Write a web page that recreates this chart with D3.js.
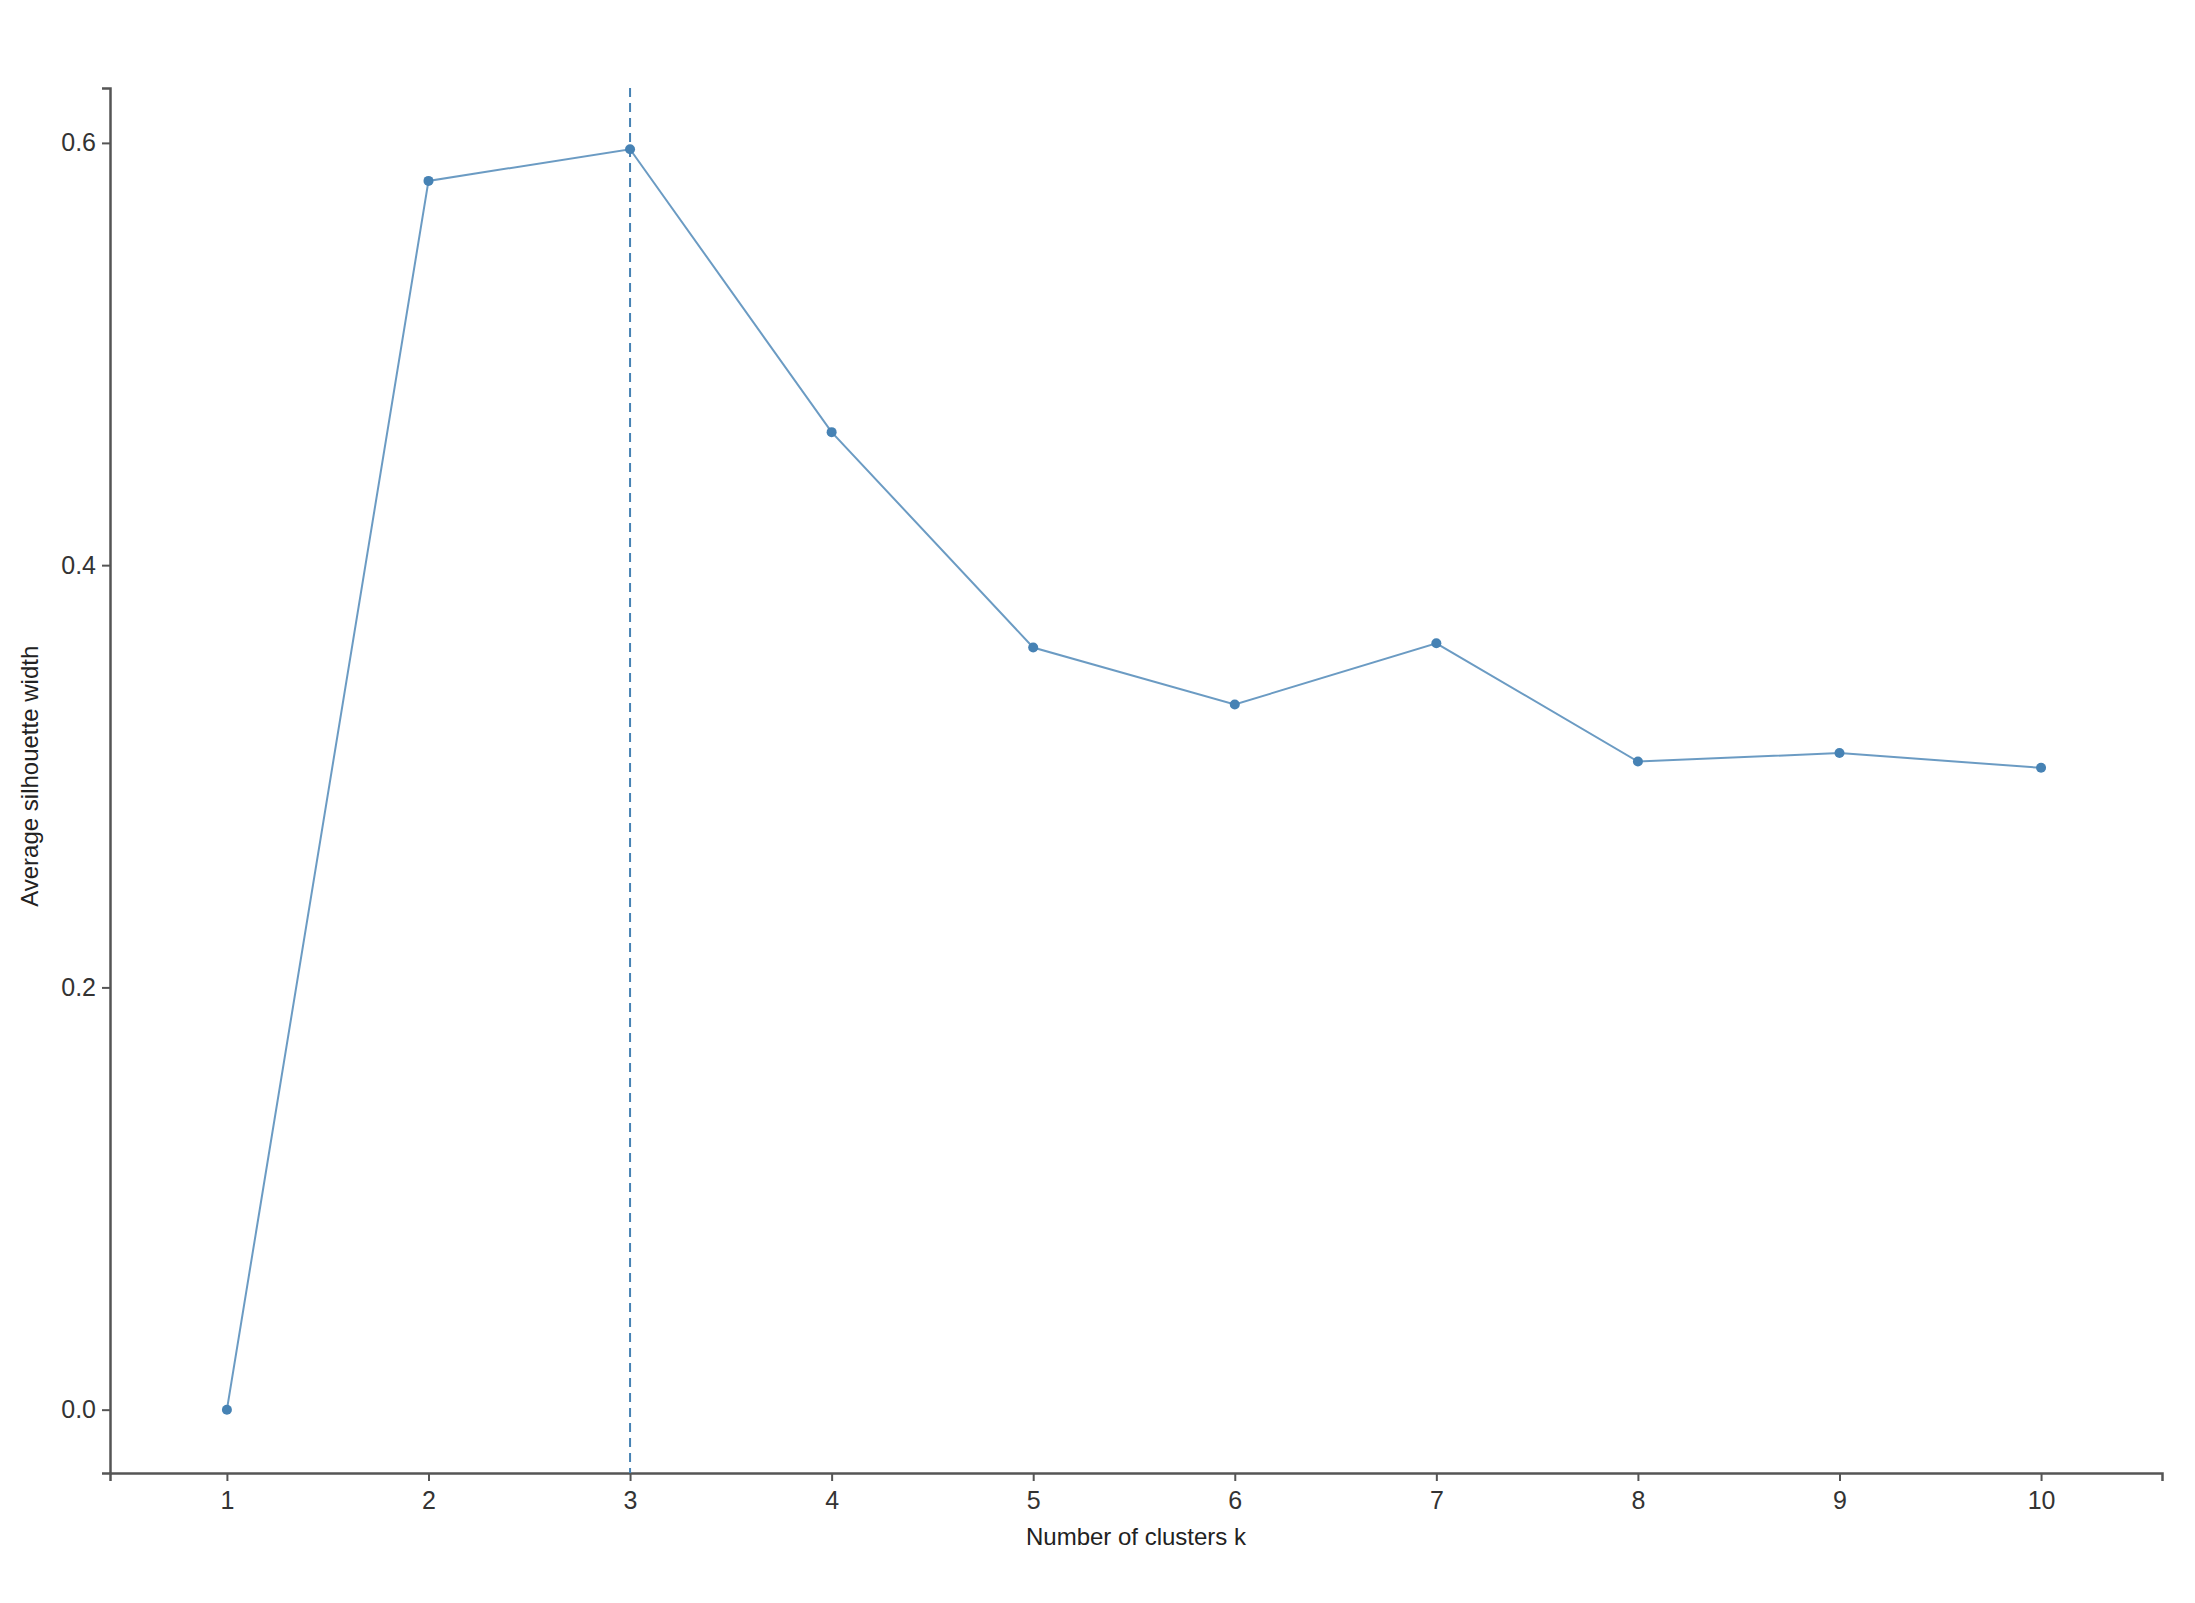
<!DOCTYPE html>
<html>
<head>
<meta charset="utf-8">
<script src="https://cdn.jsdelivr.net/npm/d3@7"></script>
<style>
  body { margin: 0; background: #fff; }
  text { font-family: "Liberation Sans", Arial, sans-serif; }
</style>
</head>
<body>
<div id="chart"></div>
<script>
// silhouette values
var clusters = [1, 2, 3, 4, 5, 6, 7, 8, 9, 10];
var silhouette = [0, 0.582, 0.597, 0.463, 0.361, 0.334, 0.363, 0.307, 0.311, 0.304];
var yTicks = [0, 0.2, 0.4, 0.6];
var bestK = 3;

var W = 2195, H = 1603;
var margin = {top: 88, right: 33, bottom: 130, left: 110};
var width = W - margin.left - margin.right;
var height = H - margin.top - margin.bottom;

var svg = d3.select("#chart")
    .append("svg")
    .attr("width", W)
    .attr("height", H)
    .append("g")
    .attr("transform", "translate(" + margin.left + "," + margin.top + ")");

var x = d3.scaleLinear()
    .domain([0.42, 10.6])
    .range([0, width]);

var y = d3.scaleLinear()
    .domain([-0.030, 0.626])
    .range([height, 0]);

// X axis
var gx = svg.append("g")
    .attr("transform", "translate(0," + height + ")")
    .call(d3.axisBottom(x).tickValues(clusters).tickFormat(d3.format("d")).tickSize(8).tickPadding(10));

// Y axis
var gy = svg.append("g")
    .call(d3.axisLeft(y).tickValues(yTicks).tickFormat(d3.format(".1f")).tickSize(8).tickPadding(6));

[gx, gy].forEach(function (g) {
    g.select(".domain").attr("stroke", "#555").attr("stroke-width", 2.5);
    g.selectAll(".tick line").attr("stroke", "#555").attr("stroke-width", 2);
    g.selectAll("text").style("font-size", "25px").attr("fill", "#333");
});

// dashed line at optimal k
svg.append("line")
    .attr("x1", x(bestK)).attr("x2", x(bestK))
    .attr("y1", 0).attr("y2", height)
    .attr("stroke", "#4682B4")
    .attr("stroke-width", 2)
    .attr("stroke-dasharray", "9,6");

var data = clusters.map(function (k, i) { return {k: k, v: silhouette[i]}; });

svg.append("path")
    .datum(data)
    .attr("fill", "none")
    .attr("stroke", "#4682B4")
    .attr("stroke-opacity", 0.8)
    .attr("stroke-width", 2)
    .attr("d", d3.line().x(function (d) { return x(d.k); }).y(function (d) { return y(d.v); }));

svg.selectAll("circle")
    .data(data)
    .enter()
    .append("circle")
    .attr("cx", function (d) { return x(d.k); })
    .attr("cy", function (d) { return y(d.v); })
    .attr("r", 5)
    .attr("fill", "#4682B4");

// axis titles
svg.append("text")
    .attr("x", width / 2)
    .attr("y", height + 72)
    .attr("text-anchor", "middle")
    .style("font-size", "24px")
    .attr("fill", "#222")
    .text("Number of clusters k");

svg.append("text")
    .attr("transform", "translate(" + (-72) + "," + y(0.3) + ") rotate(-90)")
    .attr("text-anchor", "middle")
    .style("font-size", "24px")
    .attr("fill", "#222")
    .text("Average silhouette width");
</script>
</body>
</html>
